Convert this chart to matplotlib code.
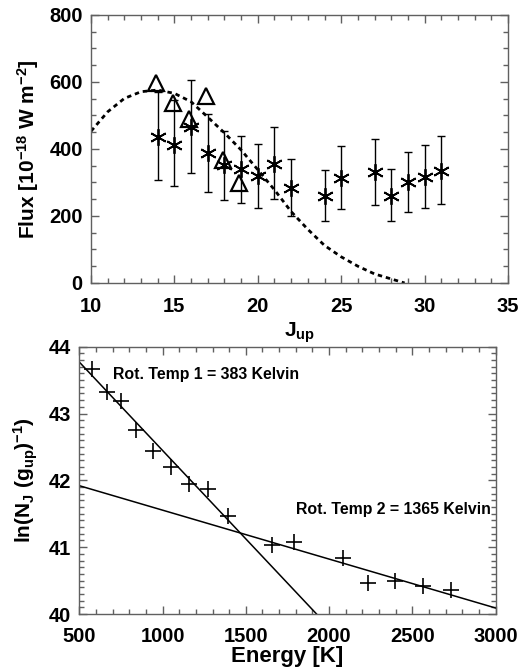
import numpy as np
import matplotlib
matplotlib.use("Agg")
import matplotlib.pyplot as plt
from matplotlib.ticker import MultipleLocator

plt.rcParams['font.family'] = ['Liberation Sans', 'DejaVu Sans']
plt.rcParams['font.weight'] = 'bold'
plt.rcParams['mathtext.fontset'] = 'custom'
plt.rcParams['mathtext.rm'] = 'Liberation Sans:bold'
plt.rcParams['mathtext.it'] = 'Liberation Sans:bold'
plt.rcParams['mathtext.bf'] = 'Liberation Sans:bold'

# --- top panel: line fluxes vs J_up ---
j_up = [14, 15, 16, 17, 18, 19, 20, 21, 22, 24, 25, 27, 28, 29, 30, 31]
flux = [437, 413, 467, 387, 351, 339, 320, 355, 284, 260, 313, 330, 261, 300, 315, 335]
flux_hi = [571, 546, 606, 504, 455, 440, 415, 465, 369, 338, 410, 429, 339, 390, 413, 438]
flux_lo = [306, 290, 327, 271, 247, 238, 223, 250, 200, 184, 220, 232, 184, 211, 223, 237]

j_tri = [13.9, 14.9, 15.9, 16.9, 17.9, 18.9]
flux_tri = [596, 536, 489, 559, 367, 299]

j_model = [10, 11, 12, 13, 14, 15, 16, 17, 18, 19, 20, 21, 22, 23, 24, 25, 26, 27, 28, 28.8]
flux_model = [453, 511, 551, 571, 576, 566, 541, 495, 448, 397, 338, 278, 213, 160, 112, 78, 50, 27, 12, 0]

# --- bottom panel: rotation diagram ---
energy = [574, 664, 752, 840, 944, 1050, 1158, 1275, 1395, 1655, 1789, 2081, 2235, 2395, 2562, 2732]
ln_n = [43.66, 43.32, 43.19, 42.76, 42.44, 42.20, 41.94, 41.87, 41.47, 41.04, 41.08, 40.84, 40.47, 40.49, 40.42, 40.36]

fit1_e = [500, 1925]
fit1_ln = [43.77, 40.0]
fit2_e = [500, 3000]
fit2_ln = [41.92, 40.09]

fig = plt.figure(figsize=(5.2, 6.69), dpi=100)
ax1 = fig.add_axes([0.175, 0.577, 0.802, 0.4006])
ax2 = fig.add_axes([0.1525, 0.0822, 0.8005, 0.3996])

spine_col = '#606060'

def style(ax, xpad):
    for s in ax.spines.values():
        s.set_color(spine_col)
        s.set_linewidth(1.0)
    ax.tick_params(which='both', direction='in', top=True, right=True, color=spine_col)
    ax.tick_params(which='major', length=6, width=1.0, labelsize=14.5, pad=6)
    ax.tick_params(axis='x', which='major', pad=xpad)
    ax.tick_params(which='minor', length=3.5, width=1.0)

yerr = [np.array(flux) - np.array(flux_lo), np.array(flux_hi) - np.array(flux)]
ax1.errorbar(j_up, flux, yerr=yerr, fmt='none', ecolor='black', elinewidth=1.0, capsize=3, capthick=1.0)
ax1.plot(j_up, flux, linestyle='none', marker=(6, 2, 0), markersize=12, mew=1.3, color='black')
ax1.plot(j_tri, flux_tri, linestyle='none', marker='^', markersize=12, mfc='none', mec='black', mew=1.6)
ax1.plot(j_model, flux_model, color='black', lw=2, linestyle=(0, (1.6, 1.4)))
ax1.set_xlim(10, 35)
ax1.set_ylim(0, 800)
ax1.xaxis.set_major_locator(MultipleLocator(5))
ax1.xaxis.set_minor_locator(MultipleLocator(1))
ax1.yaxis.set_major_locator(MultipleLocator(200))
ax1.yaxis.set_minor_locator(MultipleLocator(50))
style(ax1, 10)
ax1.set_xlabel(r'J$_{\rm up}$', fontsize=15, fontweight='bold', labelpad=3)
ax1.set_ylabel(r'Flux [10$^{-18}$ W m$^{-2}$]', fontsize=15, fontweight='bold', labelpad=6)

ax2.plot(energy, ln_n, linestyle='none', marker='+', markersize=11, mew=1.2, color='black')
ax2.plot(fit1_e, fit1_ln, color='black', lw=1.1)
ax2.plot(fit2_e, fit2_ln, color='black', lw=1.1)
ax2.text(704, 43.58, 'Rot. Temp 1 = 383 Kelvin', fontsize=11.4, fontweight='bold', va='center', ha='left')
ax2.text(1801, 41.57, 'Rot. Temp 2 = 1365 Kelvin', fontsize=11.4, fontweight='bold', va='center', ha='left')
ax2.set_xlim(500, 3000)
ax2.set_ylim(40, 44)
ax2.xaxis.set_major_locator(MultipleLocator(500))
ax2.xaxis.set_minor_locator(MultipleLocator(100))
ax2.yaxis.set_major_locator(MultipleLocator(1))
ax2.yaxis.set_minor_locator(MultipleLocator(0.1))
style(ax2, 9)
ax2.set_xlabel('Energy [K]', fontsize=16, fontweight='bold', labelpad=0)
ax2.set_ylabel(r'ln(N$_{\rm J}$ (g$_{\rm up}$)$^{-1}$)', fontsize=15, fontweight='bold', labelpad=6)

fig.savefig('out.png', dpi=100)
